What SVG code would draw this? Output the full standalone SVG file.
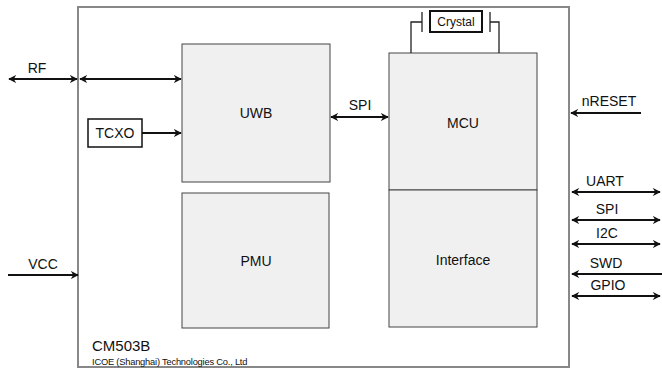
<svg xmlns="http://www.w3.org/2000/svg" width="662" height="372" viewBox="0 0 662 372">
<defs>
<marker id="ah" viewBox="0 0 10 10" refX="9" refY="5" markerWidth="8" markerHeight="8" markerUnits="userSpaceOnUse" orient="auto-start-reverse">
<path d="M0,0 L10,5 L0,10 L3,5 z" fill="#111"/>
</marker>
</defs>
<style>
text{font-family:"Liberation Sans",Arial,sans-serif;fill:#111}
.blk{fill:#f0f0f0;stroke:#444;stroke-width:1}
.lbl{font-size:14px;text-anchor:middle}
.pin{font-size:14px;text-anchor:middle}
.w{stroke:#111;stroke-width:2;fill:none}
.a{stroke:#111;stroke-width:2;fill:none;marker-end:url(#ah)}
.d{stroke:#111;stroke-width:2;fill:none;marker-start:url(#ah);marker-end:url(#ah)}
</style>
<rect width="662" height="372" fill="#fff"/>
<g id="chip">
<rect x="78" y="7" width="491" height="360" fill="#fff" stroke="#888" stroke-width="2"/>
<text x="92" y="351" font-size="15">CM503B</text>
<text x="92" y="365" font-size="9.3" letter-spacing="-0.2">ICOE (Shanghai) Technologies Co., Ltd</text>
</g>
<g id="uwb"><rect class="blk" x="182" y="44" width="148" height="138"/><text class="lbl" x="256" y="118">UWB</text></g>
<g id="pmu"><rect class="blk" x="182" y="193" width="147" height="135"/><text class="lbl" x="256" y="266">PMU</text></g>
<g id="mcu"><rect class="blk" x="389" y="53" width="148" height="137"/><text class="lbl" x="463" y="128">MCU</text></g>
<g id="interface"><rect class="blk" x="389" y="190" width="148" height="137"/><text class="lbl" x="463" y="265">Interface</text></g>
<g id="tcxo"><rect x="88" y="119" width="54" height="28" fill="#fff" stroke="#111" stroke-width="1.5"/><text class="lbl" x="115" y="138">TCXO</text></g>
<g id="crystal"><rect x="430" y="11" width="52" height="21" fill="#fff" stroke="#111" stroke-width="2"/><text x="456" y="26" font-size="12" text-anchor="middle">Crystal</text></g>
<g id="connectors">
<path class="d" d="M9,79 H77"/>
<path class="d" d="M80,79 H181"/>
<path class="a" d="M142,133 H181"/>
<path class="d" d="M331,117 H388"/>
<path class="a" d="M8,275 H78"/>
<path class="a" d="M641,113 H571"/>
<path class="d" d="M572,192 H660"/>
<path class="d" d="M572,220 H660"/>
<path class="d" d="M572,244 H660"/>
<path class="a" d="M662,274 H572"/>
<path class="d" d="M572,296 H660"/>
<path stroke="#222" stroke-width="1.3" fill="none" d="M411,53 V22 H422 M422,12 V32 M490,12 V32 M490,22 H499 V53"/>
</g>
<g id="labels">
<text class="pin" x="37" y="73">RF</text>
<text class="pin" x="43" y="269">VCC</text>
<text class="pin" x="609" y="106">nRESET</text>
<text class="pin" x="360" y="110">SPI</text>
<text class="pin" x="605" y="186">UART</text>
<text class="pin" x="607" y="214">SPI</text>
<text class="pin" x="607" y="238">I2C</text>
<text class="pin" x="606" y="268">SWD</text>
<text class="pin" x="608" y="290">GPIO</text>
</g>
</svg>
